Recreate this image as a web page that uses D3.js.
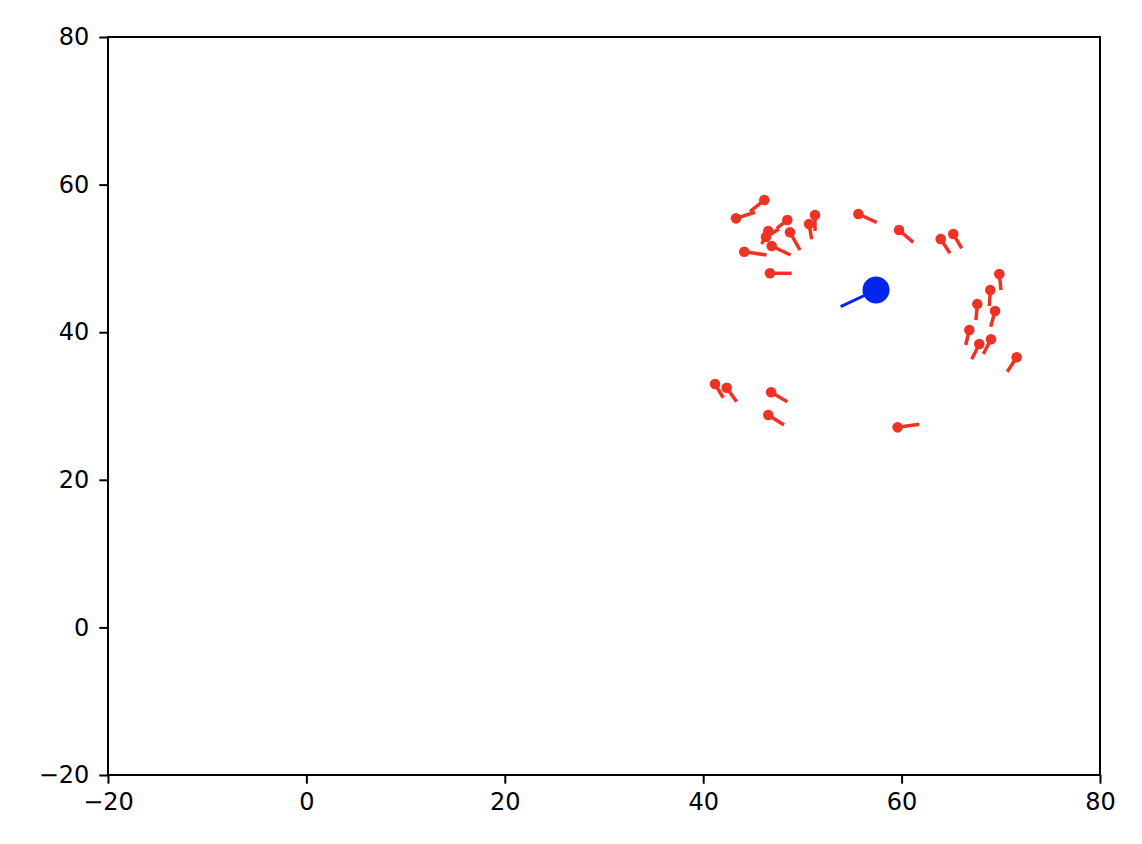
<!DOCTYPE html>
<html>
<head>
<meta charset="utf-8">
<script src="https://cdn.jsdelivr.net/npm/d3@7"></script>
<style>
  body { margin: 0; background: #fff; }
  .tick text { font-family: "DejaVu Sans", sans-serif; font-size: 24px; fill: #000; }
</style>
</head>
<body>
<div id="chart"></div>
<script>
// red agents: position and tail end (data units)
var agentX = [46.16, 43.31, 48.48, 46.56, 46.33, 48.75, 46.90, 44.14, 46.73, 51.27, 50.67, 55.64, 59.74, 63.94,
              65.21, 69.85, 68.94, 67.63, 69.42, 66.83, 67.83, 69.01, 71.60, 41.19, 42.37, 46.84, 46.56, 59.60];
var agentY = [57.91, 55.43, 55.20, 53.71, 52.90, 53.54, 51.68, 50.91, 47.98, 55.88, 54.66, 56.02, 53.85, 52.63,
              53.31, 47.89, 45.72, 43.82, 42.87, 40.30, 38.40, 39.04, 36.60, 32.98, 32.48, 31.86, 28.78, 27.11];
var tailX  = [44.72, 45.22, 47.41, 45.90, 47.64, 49.76, 48.82, 46.39, 48.92, 51.27, 50.94, 57.49, 61.18, 64.88,
              66.06, 70.02, 68.84, 67.50, 68.98, 66.46, 67.07, 68.24, 70.65, 42.03, 43.37, 48.48, 48.15, 61.78];
var tailY  = [56.33, 56.25, 54.08, 51.95, 53.98, 51.14, 50.46, 50.46, 47.98, 53.71, 52.59, 54.89, 52.18, 50.69,
              51.37, 45.72, 43.55, 41.65, 40.75, 38.27, 36.33, 37.05, 34.65, 31.12, 30.58, 30.58, 27.43, 27.52];

// blue agent
var leaderX = [57.42];
var leaderY = [45.72];
var leaderTailX = [53.86];
var leaderTailY = [43.46];

var xTicks = [-20, 0, 20, 40, 60, 80];
var yTicks = [-20, 0, 20, 40, 60, 80];

var width = 1142;
var height = 844;
var margin = { top: 37, bottom: 69, left: 108, right: 42 };

var svg = d3.select("#chart")
    .append("svg")
    .attr("width", width)
    .attr("height", height);

var x = d3.scaleLinear().domain([-20, 80]).range([margin.left, width - margin.right]);
var y = d3.scaleLinear().domain([-20, 80]).range([height - margin.bottom, margin.top]);

var red = "#ee3224";
var blue = "#0325f0";

var agents = agentX.map(function(d, i) {
  return { x: d, y: agentY[i], tx: tailX[i], ty: tailY[i] };
});
var leaders = leaderX.map(function(d, i) {
  return { x: d, y: leaderY[i], tx: leaderTailX[i], ty: leaderTailY[i] };
});

var plot = svg.append("g");

plot.selectAll("line.tail")
    .data(agents)
    .enter().append("line")
    .attr("class", "tail")
    .attr("x1", function(d) { return x(d.x); })
    .attr("y1", function(d) { return y(d.y); })
    .attr("x2", function(d) { return x(d.tx); })
    .attr("y2", function(d) { return y(d.ty); })
    .attr("stroke", red)
    .attr("stroke-width", 3.5);

plot.selectAll("circle.agent")
    .data(agents)
    .enter().append("circle")
    .attr("class", "agent")
    .attr("cx", function(d) { return x(d.x); })
    .attr("cy", function(d) { return y(d.y); })
    .attr("r", 5.3)
    .attr("fill", red);

plot.selectAll("line.ltail")
    .data(leaders)
    .enter().append("line")
    .attr("class", "ltail")
    .attr("x1", function(d) { return x(d.x); })
    .attr("y1", function(d) { return y(d.y); })
    .attr("x2", function(d) { return x(d.tx); })
    .attr("y2", function(d) { return y(d.ty); })
    .attr("stroke", blue)
    .attr("stroke-width", 3);

plot.selectAll("circle.leader")
    .data(leaders)
    .enter().append("circle")
    .attr("class", "leader")
    .attr("cx", function(d) { return x(d.x); })
    .attr("cy", function(d) { return y(d.y); })
    .attr("r", 13.5)
    .attr("fill", blue);

// axes
var fmt = function(d) { return d < 0 ? "\u2212" + Math.abs(d) : d; };

var xAxis = svg.append("g")
    .attr("transform", "translate(0," + (height - margin.bottom) + ")")
    .call(d3.axisBottom(x).tickValues(xTicks).tickFormat(fmt).tickSize(8.7).tickPadding(9));

var yAxis = svg.append("g")
    .attr("transform", "translate(" + margin.left + ",0)")
    .call(d3.axisLeft(y).tickValues(yTicks).tickFormat(fmt).tickSize(8.7).tickPadding(10));

[xAxis, yAxis].forEach(function(a) {
  a.select(".domain").remove();
  a.selectAll(".tick line").attr("stroke", "#000").attr("stroke-width", 2);
});

svg.append("rect")
    .attr("x", margin.left)
    .attr("y", margin.top)
    .attr("width", width - margin.left - margin.right)
    .attr("height", height - margin.top - margin.bottom)
    .attr("fill", "none")
    .attr("stroke", "#000")
    .attr("stroke-width", 2);
</script>
</body>
</html>
